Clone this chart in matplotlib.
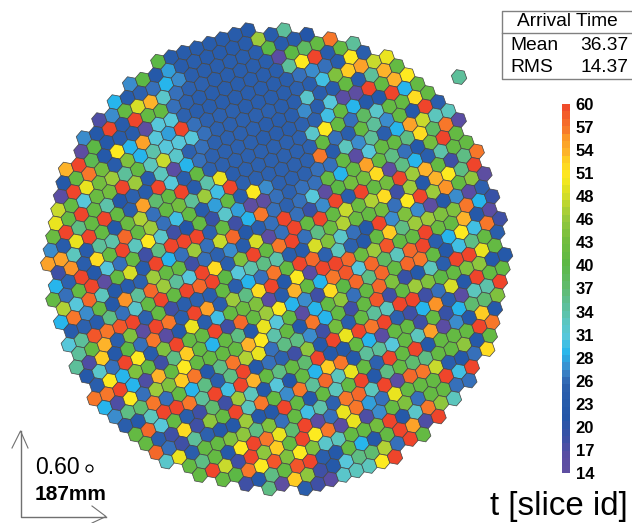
import numpy as np
import matplotlib
matplotlib.use('Agg')
import matplotlib.pyplot as plt
from matplotlib.collections import PolyCollection
from matplotlib.colors import LinearSegmentedColormap

plt.rcParams['font.family'] = ['Liberation Sans', 'DejaVu Sans']

# first column of every row of the camera lattice
row_start = [0, -2, -3, -4, -5, -5, -6, -6, -6, -6, -6, -6, -6, -6, -5, -5, -5, -4, -4, -3,
             -3, -2, -2, -1, 0, 0, 1, 2, 3, 4, 5, 6, 7, 9, 10, 12, 14, 16, 19]

# arrival time of every pixel, row by row
row_values = [
    [40, 23, 23, 23, 23, 23, 23, 22],
    [27, 40, 22, 28, 23, 24, 23, 23, 23, 23, 46, 23, 35],
    [29, 23, 25, 26, 29, 27, 24, 24, 24, 24, 24, 24, 40, 23, 23, 21],
    [17, 27, 41, 49, 54, 32, 26, 25, 25, 24, 24, 24, 24, 24, 16, 40, 38, 41, 57],
    [27, 22, 60, 23, 60, 41, 41, 26, 25, 24, 24, 24, 24, 24, 24, 24, 35, 51, 60, 23, 41, 35],
    [15, 40, 22, 23, 23, 15, 31, 31, 25, 24, 24, 24, 24, 24, 24, 24, 24, 26, 27, 26, 23, 51, 24],
    [54, 60, 39, 22, 51, 29, 55, 31, 28, 60, 26, 25, 25, 25, 24, 24, 24, 24, 25, 24, 30, 44, 53, 55, 48, 50],
    [22, 41, 57, 43, 23, 44, 29, 34, 31, 31, 31, 26, 25, 25, 25, 25, 25, 24, 24, 32, 24, 23, 41, 23, 35, 54, 41],
    [16, 60, 50, 43, 46, 35, 41, 33, 48, 32, 25, 26, 25, 25, 25, 25, 24, 24, 24, 27, 24, 31, 16, 15, 60, 41, 54, 51],
    [48, 41, 31, 42, 43, 60, 46, 23, 33, 16, 29, 26, 25, 25, 25, 25, 24, 24, 24, 25, 25, 30, 41, 29, 22, 22, 60, 29, 41],
    [50, 41, 60, 41, 34, 21, 25, 23, 60, 31, 24, 41, 25, 25, 25, 25, 25, 25, 25, 25, 32, 51, 41, 26, 38, 32, 41, 41, 52, 41],
    [42, 60, 36, 41, 60, 41, 24, 55, 37, 41, 60, 23, 34, 50, 24, 25, 25, 25, 25, 25, 25, 41, 26, 24, 41, 35, 27, 41, 22, 60, 24],
    [27, 23, 50, 60, 41, 22, 42, 47, 26, 41, 43, 35, 46, 30, 60, 25, 25, 25, 25, 25, 25, 57, 23, 33, 27, 35, 24, 29, 55, 48, 33, 33],
    [55, 55, 33, 23, 35, 34, 58, 41, 46, 26, 30, 41, 23, 28, 41, 24, 51, 27, 25, 25, 25, 26, 26, 41, 16, 31, 41, 41, 36, 52, 38, 57, 16],
    [18, 56, 24, 52, 41, 60, 33, 51, 32, 18, 21, 41, 19, 32, 28, 15, 15, 26, 25, 26, 26, 41, 29, 41, 55, 41, 36, 26, 22, 43, 60, 41],
    [29, 25, 60, 22, 31, 26, 41, 18, 36, 60, 60, 60, 25, 41, 18, 29, 57, 26, 25, 26, 31, 15, 40, 43, 43, 52, 15, 36, 29, 24, 34, 41, 41],
    [41, 26, 41, 60, 15, 41, 49, 23, 60, 29, 26, 46, 26, 48, 58, 22, 24, 26, 60, 26, 19, 27, 60, 24, 60, 41, 43, 60, 46, 54, 41, 18, 36, 57],
    [47, 31, 58, 33, 22, 23, 25, 46, 41, 41, 18, 26, 25, 27, 23, 49, 16, 26, 60, 41, 60, 41, 48, 42, 47, 52, 18, 46, 22, 54, 51, 36, 60],
    [29, 57, 27, 41, 22, 56, 35, 58, 46, 35, 31, 60, 52, 24, 44, 60, 41, 57, 60, 26, 36, 42, 47, 42, 41, 43, 26, 51, 60, 46, 56, 41, 45, 15],
    [23, 25, 23, 36, 26, 32, 41, 60, 41, 60, 58, 60, 40, 31, 34, 36, 34, 24, 23, 49, 44, 32, 26, 22, 60, 27, 44, 27, 15, 22, 27, 16, 25],
    [31, 35, 59, 57, 59, 60, 25, 41, 18, 24, 25, 24, 41, 24, 29, 26, 57, 41, 60, 58, 25, 33, 25, 22, 41, 53, 36, 46, 46, 44, 44, 57, 29, 19],
    [35, 41, 54, 24, 44, 15, 60, 57, 24, 60, 55, 24, 46, 36, 52, 60, 22, 51, 16, 60, 60, 58, 42, 46, 59, 41, 41, 60, 42, 41, 54, 22, 16],
    [35, 17, 53, 22, 40, 26, 57, 16, 22, 50, 24, 30, 41, 42, 44, 16, 23, 54, 41, 29, 57, 59, 31, 58, 38, 33, 58, 60, 24, 29, 51, 30, 57, 18],
    [22, 32, 26, 60, 51, 23, 44, 60, 41, 41, 60, 18, 58, 41, 46, 51, 29, 27, 18, 52, 40, 58, 36, 58, 41, 58, 57, 41, 22, 30, 36, 41, 24],
    [24, 51, 29, 44, 41, 18, 36, 53, 41, 29, 41, 36, 22, 50, 31, 41, 16, 29, 41, 45, 26, 41, 58, 44, 19, 22, 33, 24, 60, 60, 50, 41],
    [57, 57, 60, 29, 17, 54, 41, 51, 41, 41, 41, 41, 54, 51, 34, 41, 22, 57, 29, 41, 18, 41, 59, 18, 41, 46, 44, 40, 41, 44, 45, 22, 22],
    [29, 17, 51, 26, 46, 44, 53, 57, 22, 36, 57, 47, 50, 26, 36, 36, 27, 18, 43, 24, 41, 35, 33, 60, 60, 18, 26, 49, 22, 60, 41, 41],
    [27, 36, 37, 57, 26, 41, 29, 36, 24, 36, 60, 22, 26, 25, 18, 45, 22, 60, 50, 60, 57, 60, 25, 18, 29, 56, 24, 16, 33, 34, 60],
    [24, 22, 33, 60, 60, 57, 35, 60, 30, 60, 54, 41, 36, 41, 37, 60, 22, 22, 41, 29, 16, 41, 41, 18, 41, 19, 29, 37, 37, 44],
    [41, 58, 31, 41, 24, 18, 37, 18, 46, 33, 22, 31, 21, 41, 29, 53, 57, 22, 35, 35, 31, 41, 33, 55, 16, 27, 22, 53, 22],
    [41, 24, 18, 52, 18, 45, 41, 60, 33, 57, 41, 27, 57, 35, 58, 33, 50, 41, 25, 60, 41, 60, 22, 41, 41, 41, 60, 57],
    [58, 26, 18, 35, 25, 22, 22, 46, 22, 22, 60, 41, 22, 41, 33, 41, 60, 22, 36, 41, 37, 36, 41, 41, 45, 22, 41],
    [32, 50, 24, 41, 41, 44, 45, 36, 44, 26, 41, 30, 34, 25, 57, 58, 33, 60, 16, 58, 57, 48, 24, 22, 26, 52],
    [41, 36, 41, 22, 51, 60, 57, 50, 37, 60, 16, 26, 50, 57, 28, 26, 50, 41, 41, 41, 60, 30, 60],
    [41, 60, 48, 18, 60, 45, 53, 41, 60, 51, 57, 16, 50, 17, 27, 41, 44, 26, 41, 41, 26, 26],
    [41, 40, 57, 51, 59, 44, 51, 44, 32, 33, 41, 41, 43, 60, 22, 32, 57, 45, 33],
    [18, 22, 36, 41, 59, 60, 24, 22, 41, 29, 22, 41, 60, 55, 17, 60],
    [36, 15, 53, 45, 18, 22, 31, 36, 37, 47, 26, 60, 41],
    [24, 18, 16, 32, 33, 33, 51, 60],
]

# the lone pixel outside the disc, in lattice units
extra_row = [9.6]
extra_col = [25.35]
extra_value = [35]

# colour scale
level_values = [14, 16, 18, 21, 25, 26, 27, 29, 31, 33, 35, 37, 40, 43, 46, 48, 50, 51, 53, 54, 56, 57, 59, 60]
level_colors = ['#5f4ea0', '#5a4da3', '#3f50a5', '#2356a8', '#2d61ae', '#3772bb', '#3b8ccc', '#27b6ec',
                '#58c7da', '#5cc6bc', '#5dbf99', '#5fbb70', '#5cb845', '#72bd3f', '#9bca3c', '#c6d92e',
                '#e8e41f', '#fdea20', '#fed022', '#fdb42a', '#fb9528', '#f7792a', '#f2582a', '#ef452b']
tick_labels = ['14', '17', '20', '23', '26', '28', '31', '34', '37', '40', '43', '46', '48', '51', '54', '57', '60']

vmin, vmax = 14, 60
stops = [(v - vmin) / (vmax - vmin) for v in level_values]
cmap = LinearSegmentedColormap.from_list('arrival', list(zip(stops, level_colors)), N=256)
norm = plt.Normalize(vmin, vmax)

# lattice geometry in pixels
origin = np.array([158.3, 61.7])
u = np.array([12.83, -4.5])
w = np.array([-2.55, 13.48])
radius = np.hypot(*u) / np.sqrt(3)
angle0 = np.arctan2(u[1], u[0]) + np.pi / 6
corners = radius * np.array([[np.cos(angle0 + n * np.pi / 3), np.sin(angle0 + n * np.pi / 3)] for n in range(6)])

polys = []
vals = []
for r, (start, values) in enumerate(zip(row_start, row_values)):
    for i, v in enumerate(values):
        polys.append(origin + r * w + (start + i) * u + corners)
        vals.append(v)
for r, k, v in zip(extra_row, extra_col, extra_value):
    polys.append(origin + r * w + k * u + corners)
    vals.append(v)

fig = plt.figure(figsize=(6.32, 5.23), dpi=100)
ax = fig.add_axes([0, 0, 1, 1])
ax.set_xlim(0, 632)
ax.set_ylim(523, 0)
ax.axis('off')

coll = PolyCollection(polys, array=np.array(vals), cmap=cmap, norm=norm,
                      edgecolors='#444444', linewidths=0.5)
ax.add_collection(coll)

# statistics box
ax.plot([632, 502, 502, 632], [11, 11, 79, 79], color='#808080', lw=1, clip_on=False)
ax.plot([502, 632], [33, 33], color='#808080', lw=1)
ax.text(567, 22, 'Arrival Time', fontsize=13.8, ha='center', va='center')
ax.text(510, 45, 'Mean', fontsize=13.8, ha='left', va='center')
ax.text(510, 68, 'RMS', fontsize=13.8, ha='left', va='center')
ax.text(628, 45, '36.37', fontsize=13.8, ha='right', va='center')
ax.text(628, 68, '14.37', fontsize=13.8, ha='right', va='center')

# scale arrows
arrow_color = '#707070'
ax.plot([20.5, 20.5, 106], [431, 516.5, 516.5], color=arrow_color, lw=1)
ax.plot([12, 20.5, 28], [448, 431, 448], color=arrow_color, lw=0.8)
ax.plot([92, 106, 92], [506, 516.5, 523], color=arrow_color, lw=0.8, clip_on=False)
ax.text(35, 467, '0.60', fontsize=16.5, ha='left', va='center')
ax.plot([89], [468], marker='o', ms=5, mfc='none', mec='black', mew=0.9)
ax.text(35, 495, '187mm', fontsize=15, fontweight='bold', ha='left', va='center')
ax.text(628, 506, 't [slice id]', fontsize=23.8, ha='right', va='center')

# colour bar
cax = fig.add_axes([562 / 632, 1 - 473 / 523, 8 / 632, 369 / 523])
levels = np.linspace(vmin, vmax, 51)
cax.pcolormesh([0, 1], levels, np.array([(levels[:-1] + levels[1:]) / 2]).T, cmap=cmap, norm=norm)
cax.set_xticks([])
cax.yaxis.tick_right()
cax.set_yticks(np.linspace(vmin, vmax, len(tick_labels)))
cax.set_yticklabels(tick_labels, fontsize=12, fontweight='bold')
cax.tick_params(axis='y', length=0, pad=4)
for s in cax.spines.values():
    s.set_visible(False)

fig.savefig('out.png', dpi=100)
